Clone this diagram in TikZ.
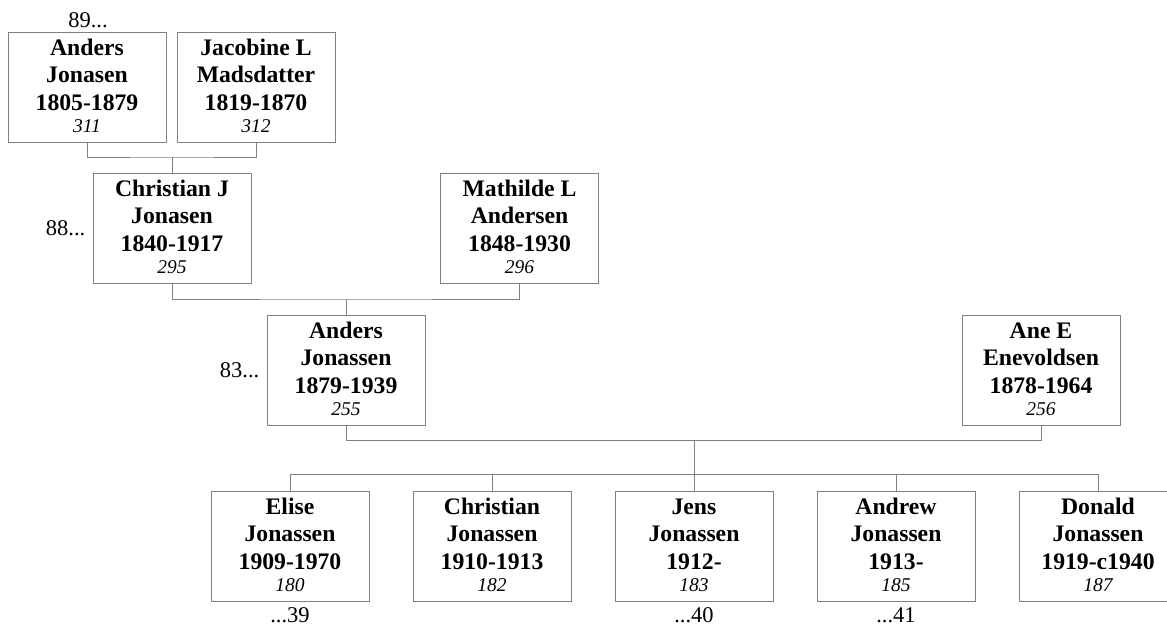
\documentclass[tikz,border=0pt]{standalone}
\usepackage{fontspec}
\setmainfont{Liberation Serif}
\definecolor{lgray}{RGB}{128,128,128}
\tikzset{
  pbox/.style={draw=lgray, line width=1pt, minimum width=158pt, minimum height=110pt, anchor=north, inner sep=0pt},
  ptext/.style={anchor=north, inner sep=0pt, align=center, font=\fontsize{23.7}{27.5}\selectfont\bfseries},
  conn/.style={draw=lgray, line width=1pt},
  ref/.style={inner sep=0pt, font=\fontsize{22.5}{24}\selectfont}
}
\newcommand{\pers}[7]{%
  \node[pbox] (#1) at (#2,#3) {};
  \node[ptext] (#1t) at (#2,{#3+6}) {\rule{0pt}{17pt}#4\\#5\\#6\\[-5.5pt]{\fontsize{19.5}{22}\selectfont\mdseries\itshape #7}};
}
\begin{document}
\begin{tikzpicture}[x=1pt,y=-1pt]
\useasboundingbox (0,0) rectangle (1167,625);
\pers{A1}{87}{32}{Anders}{Jonasen}{1805-1879}{311}
\pers{A2}{256}{32}{Jacobine L}{Madsdatter}{1819-1870}{312}
\pers{C}{172}{173}{Christian J}{Jonasen}{1840-1917}{295}
\pers{M}{519.5}{173}{Mathilde L}{Andersen}{1848-1930}{296}
\pers{AJ}{346}{315}{Anders}{Jonassen}{1879-1939}{255}
\pers{AE}{1041}{315}{Ane E}{Enevoldsen}{1878-1964}{256}
\pers{E}{290}{491}{Elise}{Jonassen}{1909-1970}{180}
\pers{Ch}{492}{491}{Christian}{Jonassen}{1910-1913}{182}
\pers{J}{694}{491}{Jens}{Jonassen}{1912-}{183}
\pers{An}{896}{491}{Andrew}{Jonassen}{1913-}{185}
\pers{D}{1098}{491}{Donald}{Jonassen}{1919-c1940}{187}
\coordinate (j1) at (172,157);
\coordinate (j2) at (346,299);
\coordinate (j3) at (694,440);
\coordinate (k) at (694,474);
\draw[conn] (A1.south) |- (j1) -| (A2.south);
\draw[conn] (j1) -- (C.north);
\draw[conn] (C.south) |- (j2) -| (M.south);
\draw[conn] (j2) -- (AJ.north);
\draw[conn] (AJ.south) |- (j3) -| (AE.south);
\draw[conn] (j3) -- (k);
\draw[conn] (E.north) |- (k) -| (D.north);
\draw[conn] (k) -| (Ch.north);
\draw[conn] (k) -| (An.north);
\draw[conn] (k) -- (J.north);
\node[ref, anchor=base] (r89) at (88,27) {89...};
\node[ref, anchor=east] (r88) at ([xshift=-7pt]C.west) {88...};
\node[ref, anchor=east] (r83) at ([xshift=-7pt]AJ.west) {83...};
\node[ref, anchor=base] (r39) at (290,622) {...39};
\node[ref, anchor=base] (r40) at (694,622) {...40};
\node[ref, anchor=base] (r41) at (896,622) {...41};
\end{tikzpicture}
\end{document}
